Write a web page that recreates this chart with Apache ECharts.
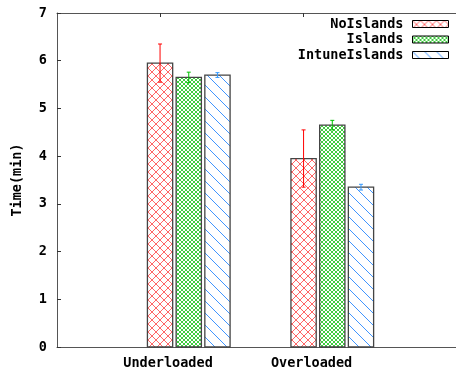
<!DOCTYPE html>
<html><head><meta charset="utf-8">
<script src="https://cdn.jsdelivr.net/npm/echarts@6/dist/echarts.min.js"></script>
<style>html,body{margin:0;padding:0;background:#fff}#c{width:456px;height:370px}</style>
</head><body><div id="c"></div>
<script>
// ---- data ----
const categories = ['Underloaded', 'Overloaded'];
const seriesNames = ['NoIslands', 'Islands', 'IntuneIslands'];
const noIslands = [5.95, 3.95];
const noIslandsErr = [0.40, 0.60];
const islands = [5.65, 4.65];
const islandsErr = [0.11, 0.10];
const intuneIslands = [5.70, 3.35];
const intuneIslandsErr = [0.05, 0.06];
const yTicks = [0, 1, 2, 3, 4, 5, 6, 7];

// ---- layout constants (gnuplot-like histogram units) ----
const GROUP_STRIDE = 5;   // 3 bars + gap of 2
const BOX = 0.88;
const X_MIN = -3.59, X_MAX = 10.31;
const FONT = 'DejaVu Sans Mono';

function makePattern(size, draw) {
  const c = document.createElement('canvas');
  c.width = size; c.height = size;
  const ctx = c.getContext('2d');
  ctx.fillStyle = '#ffffff';
  ctx.fillRect(0, 0, size, size);
  draw(ctx, size);
  return { type: 'pattern', image: c, repeat: 'repeat' };
}
const redPat = makePattern(8, (ctx, s) => {
  ctx.strokeStyle = 'rgba(255,0,0,0.6)'; ctx.lineWidth = 1;
  ctx.beginPath(); ctx.moveTo(0, 0); ctx.lineTo(s, s); ctx.moveTo(s, 0); ctx.lineTo(0, s); ctx.stroke();
});
const greenPat = makePattern(4, (ctx, s) => {
  ctx.strokeStyle = 'rgba(0,190,0,0.75)'; ctx.lineWidth = 1;
  ctx.beginPath(); ctx.moveTo(0, 0); ctx.lineTo(s, s); ctx.moveTo(s, 0); ctx.lineTo(0, s); ctx.stroke();
});
const bluePat = makePattern(12, (ctx, s) => {
  ctx.strokeStyle = 'rgba(30,130,255,0.85)'; ctx.lineWidth = 1;
  ctx.beginPath(); ctx.moveTo(-1, -1); ctx.lineTo(s + 1, s + 1); ctx.stroke();
});

const patterns = [redPat, greenPat, bluePat];
const errColors = ['#ff0000', '#00c000', '#3399ff'];
const values = [noIslands, islands, intuneIslands];
const errors = [noIslandsErr, islandsErr, intuneIslandsErr];

function barSeries(i) {
  const pat = patterns[i], col = errColors[i];
  return {
    type: 'custom',
    name: seriesNames[i],
    coordinateSystem: 'cartesian2d',
    xAxisIndex: 0, yAxisIndex: 0,
    itemStyle: { color: pat, borderColor: '#000', borderWidth: 1 },
    encode: { x: 0, y: 1 },
    data: values[i].map((v, g) => [g * GROUP_STRIDE + i, v, errors[i][g]]),
    renderItem(params, api) {
      const x = api.value(0), y = api.value(1), e = api.value(2);
      const bl = api.coord([x - BOX / 2, 0]);
      const tr = api.coord([x + BOX / 2, y]);
      const top = api.coord([x, y + e]);
      const bot = api.coord([x, y - e]);
      const cap = 2;
      return {
        type: 'group',
        children: [
          { type: 'rect', shape: { x: bl[0], y: tr[1], width: tr[0] - bl[0], height: bl[1] - tr[1] },
            style: { fill: pat, stroke: '#444', lineWidth: 1.3 } },
          { type: 'line', shape: { x1: top[0], y1: top[1], x2: bot[0], y2: bot[1] }, style: { stroke: col, lineWidth: 1 } },
          { type: 'line', shape: { x1: top[0] - cap, y1: top[1], x2: top[0] + cap, y2: top[1] }, style: { stroke: col, lineWidth: 1 } },
          { type: 'line', shape: { x1: bot[0] - cap, y1: bot[1], x2: bot[0] + cap, y2: bot[1] }, style: { stroke: col, lineWidth: 1 } }
        ]
      };
    }
  };
}

const groupTicks = categories.map((c, g) => g * GROUP_STRIDE);
const txt = { fontFamily: FONT, fontWeight: 'bold', fontSize: 13.5, color: '#000' };

const chart = echarts.init(document.getElementById('c'), null, { renderer: 'canvas' });
chart.setOption({
  animation: false,
  backgroundColor: '#fff',
  grid: { left: 57, right: 0, top: 13, bottom: 23 },
  legend: {
    orient: 'vertical', right: 7, top: 17, align: 'right', icon: 'rect',
    itemWidth: 36, itemHeight: 7, itemGap: 1.5, padding: 0,
    textStyle: Object.assign({}, txt, { lineHeight: 14, padding: [0, 4, 0, 0] }),
    data: seriesNames.map((n, i) => ({ name: n, itemStyle: { color: patterns[i], borderColor: '#000', borderWidth: 1 } }))
  },
  xAxis: [
    {
      type: 'value', position: 'bottom', min: X_MIN, max: X_MAX,
      splitLine: { show: false },
      axisLine: { show: true, onZero: false, lineStyle: { color: '#555', width: 1 } },
      axisTick: { show: true, inside: true, length: 4, customValues: groupTicks, lineStyle: { color: '#333' } },
      axisLabel: Object.assign({}, txt, {
        customValues: groupTicks, margin: 9, padding: [0, 0, 0, 16],
        formatter: v => categories[Math.round(v / GROUP_STRIDE)]
      })
    },
    {
      type: 'value', position: 'top', min: X_MIN, max: X_MAX,
      splitLine: { show: false },
      axisLine: { show: true, onZero: false, lineStyle: { color: '#555', width: 1 } },
      axisTick: { show: true, inside: true, length: 4, customValues: groupTicks, lineStyle: { color: '#333' } },
      axisLabel: { show: false }
    }
  ],
  yAxis: {
    type: 'value', position: 'left', min: yTicks[0], max: yTicks[yTicks.length - 1], interval: 1,
    splitLine: { show: false },
    axisLine: { show: true, onZero: false, lineStyle: { color: '#555', width: 1 } },
    axisTick: { show: true, inside: true, length: 4, lineStyle: { color: '#333' } },
    axisLabel: Object.assign({}, txt, { margin: 10 }),
    name: 'Time(min)', nameLocation: 'middle', nameGap: 33, nameRotate: 90,
    nameTextStyle: txt
  },
  series: [barSeries(0), barSeries(1), barSeries(2)]
});
</script></body></html>
